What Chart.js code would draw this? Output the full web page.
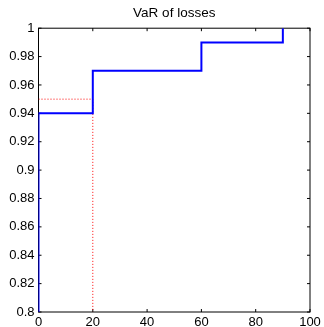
<!DOCTYPE html>
<html>
<head>
<meta charset="utf-8">
<script src="https://cdn.jsdelivr.net/npm/chart.js@4/dist/chart.umd.min.js"></script>
<style>
html,body{margin:0;padding:0;background:#fff;}
#wrap{width:324px;height:327px;position:relative;}
</style>
</head>
<body>
<div id="wrap"><canvas id="c" width="324" height="327"></canvas></div>
<script>
// Data
const titleText = "VaR of losses";
const stepX = [0, 0, 20, 20, 60, 60, 90, 90];
const stepY = [0.8, 0.94, 0.94, 0.97, 0.97, 0.99, 0.99, 1.0];
const refX = [0, 20, 20];
const refY = [0.95, 0.95, 0.8];
const xTicks = [0, 20, 40, 60, 80, 100];
const yTicks = [0.8, 0.82, 0.84, 0.86, 0.88, 0.9, 0.92, 0.94, 0.96, 0.98, 1];

const toPts = (xs, ys) => xs.map((x, i) => ({x: x, y: ys[i]}));
const FONT = "'Liberation Sans', Arial, Helvetica, sans-serif";

const boxPlugin = {
  id: 'box',
  beforeDatasetsDraw(chart) {
    const {ctx, chartArea: a, scales} = chart;
    ctx.save();
    ctx.strokeStyle = '#000';
    ctx.lineWidth = 1;
    ctx.strokeRect(a.left, a.top, a.right - a.left, a.bottom - a.top);
    const L = 3;
    ctx.beginPath();
    xTicks.forEach(v => {
      const px = scales.x.getPixelForValue(v);
      ctx.moveTo(px, a.bottom); ctx.lineTo(px, a.bottom - L);
      ctx.moveTo(px, a.top); ctx.lineTo(px, a.top + L);
    });
    yTicks.forEach(v => {
      const py = scales.y.getPixelForValue(v);
      ctx.moveTo(a.left, py); ctx.lineTo(a.left + L, py);
      ctx.moveTo(a.right, py); ctx.lineTo(a.right - L, py);
    });
    ctx.stroke();
    ctx.restore();
  }
};

new Chart(document.getElementById('c'), {
  type: 'scatter',
  data: {
    datasets: [
      {
        data: toPts(stepX, stepY),
        showLine: true,
        borderColor: '#0000ff',
        borderWidth: 2,
        pointRadius: 0,
        fill: false
      },
      {
        data: toPts(refX, refY),
        showLine: true,
        borderColor: '#ff0000',
        borderWidth: 1,
        borderDash: [1, 2],
        pointRadius: 0,
        fill: false
      }
    ]
  },
  options: {
    responsive: false,
    animation: false,
    devicePixelRatio: 1,
    layout: {padding: {left: 0, right: 14, top: 0, bottom: 0}},
    plugins: {
      legend: {display: false},
      tooltip: {enabled: false},
      title: {
        display: true,
        text: titleText,
        color: '#000',
        font: {family: FONT, size: 13.5, weight: 'normal'},
        padding: {top: 5, bottom: 7},
        fullSize: false
      }
    },
    scales: {
      x: {
        type: 'linear',
        min: 0, max: 100,
        afterBuildTicks: s => { s.ticks = xTicks.map(v => ({value: v})); },
        afterFit: s => { s.height = 15; },
        grid: {display: false, drawTicks: false},
        border: {display: false},
        ticks: {color: '#000', font: {family: FONT, size: 13}, padding: 3, maxRotation: 0,
          callback: v => String(v)}
      },
      y: {
        type: 'linear',
        min: 0.8, max: 1,
        afterBuildTicks: s => { s.ticks = yTicks.map(v => ({value: v})); },
        afterFit: s => { s.width = 38.5; },
        grid: {display: false, drawTicks: false},
        border: {display: false},
        ticks: {color: '#000', font: {family: FONT, size: 13}, padding: 4,
          callback: v => String(parseFloat(v.toFixed(2)))}
      }
    }
  },
  plugins: [boxPlugin]
});
</script>
</body>
</html>
